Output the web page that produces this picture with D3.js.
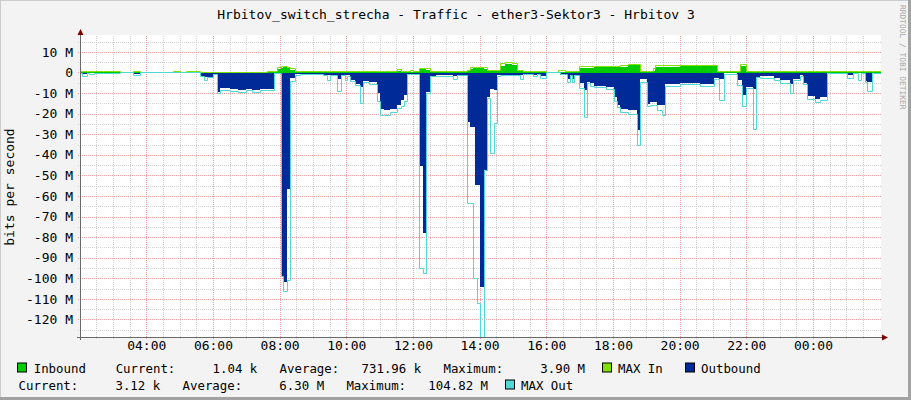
<!DOCTYPE html>
<html><head><meta charset="utf-8">
<script src="https://cdn.jsdelivr.net/npm/d3@7/dist/d3.min.js"></script>
<style>
html,body{margin:0;padding:0;background:#f3f3f3;}
svg{display:block;}
text{font-family:"DejaVu Sans Mono",monospace;fill:#000;}
</style></head><body>
<svg id="chart" width="911" height="400"></svg>
<script>
const title = "Hrbitov_switch_strecha - Traffic - ether3-Sektor3 - Hrbitov 3";
const yAxisTitle = "bits per second";
const watermark = "RRDTOOL / TOBI OETIKER";

// sample start times (each value holds until the next time), values in Mbit/s
const times = ["02:00","02:05","02:13","02:17","02:25","02:42","03:13","03:36","03:49","04:48",
"05:01","05:11","05:37","05:43","05:49","06:00","06:07","06:12","06:31","06:45",
"06:59","07:10","07:25","07:37","07:49","07:55","08:02","08:06","08:13","08:18",
"08:28","08:37","09:18","09:25","09:31","09:43","09:50","09:58","10:01","10:07",
"10:16","10:25","10:30","10:41","10:55","11:01","11:08","11:19","11:31","11:38",
"11:44","11:49","11:55","12:00","12:11","12:18","12:24","12:31","12:41","13:12",
"13:19","13:37","13:43","13:49","13:52","13:56","14:01","14:07","14:13","14:19",
"14:26","14:31","14:37","14:46","14:58","15:07","15:13","15:18","15:36","15:43",
"15:49","16:00","16:21","16:25","16:34","16:37","16:43","16:46","16:50","16:59",
"17:07","17:13","17:19","17:25","17:48","18:01","18:07","18:13","18:27","18:43",
"18:49","19:01","19:07","19:12","19:16","19:19","19:28","19:34","20:01","20:37",
"21:01","21:07","21:10","21:19","21:43","21:49","21:52","21:59","22:13","22:17",
"22:25","22:49","23:01","23:19","23:24","23:37","23:42","23:49","00:04","00:13",
"00:25","01:01","01:13","01:21","01:26","01:34","01:37","01:46"];

const inbound = [0.3,0.3,0.3,0.3,0.3,0.1,0.1,0.3,0.1,0.3,
0.1,0.2,0.1,0.1,0.1,0.1,0.1,0.1,0.1,0.1,
0.1,0.1,0.1,0.4,0.4,1.5,2.3,2.5,2.2,1.2,
0.3,0.2,0.2,0.2,0.2,0.2,0.2,0.2,0.2,0.2,
0.2,0.2,0.2,0.2,0.2,0.2,0.2,0.2,0.5,0.2,
0.2,0.2,0.3,0.2,1.5,1.9,1.1,0.3,0.3,0.3,
0.3,0.5,1.5,2.0,2.2,2.2,2.0,1.5,0.8,0.5,
0.5,0.5,3.2,3.9,3.5,0.6,0.6,0.3,0.3,0.3,
0.3,0.1,0.2,0.2,0.2,0.2,0.2,0.2,0.2,2.2,
2.2,2.2,2.2,2.5,2.5,2.5,2.5,2.7,3.7,3.8,
0.4,0.4,0.4,0.6,2.8,2.8,2.8,2.8,3.2,3.2,
3.2,0.3,0.3,0.3,0.3,3.0,3.0,0.3,0.3,0.3,
0.3,0.3,0.3,0.3,0.3,0.3,0.3,0.3,0.3,0.3,
0.2,0.2,0.2,0.2,0.2,0.2,0.2,0.2];

const maxIn = [0.5,0.5,0.5,0.5,0.5,0.3,0.2,0.5,0.2,0.5,
0.2,0.4,0.2,0.2,0.2,0.2,0.2,0.2,0.2,0.2,
0.2,0.2,0.2,0.7,0.7,2.2,2.7,2.7,2.6,2.0,
0.5,0.4,0.4,0.4,0.4,0.4,0.4,0.4,0.4,0.4,
0.4,0.4,0.4,0.4,0.4,0.4,0.4,0.4,1.6,0.3,
0.3,0.3,0.8,0.3,2.1,2.1,1.8,0.5,0.5,0.5,
0.5,1.0,2.4,2.6,2.6,2.6,2.6,2.4,1.2,0.8,
0.8,0.8,4.2,4.7,4.4,1.0,1.0,0.5,0.5,0.5,
0.5,0.2,1.0,1.0,0.3,0.3,0.3,0.3,0.3,3.0,
3.0,3.0,3.0,3.0,3.0,3.0,3.0,3.2,4.1,4.0,
0.7,0.7,0.7,2.0,3.4,3.4,3.4,3.4,3.5,3.5,
3.5,0.5,0.5,0.5,0.5,3.8,3.8,0.5,0.5,0.5,
0.5,0.5,0.5,0.5,0.5,0.5,0.5,0.5,0.5,0.5,
0.3,0.3,0.3,0.3,0.3,0.3,0.3,0.3];

const outbound = [-0.3,-0.8,-0.2,-0.3,-0.2,-0.1,-0.1,-0.5,-0.1,-0.1,
-0.1,-0.1,-1.5,-2.3,-2.3,-0.8,-9.5,-7.5,-8.0,-8.4,
-8.0,-8.3,-7.8,-8.2,-0.2,-0.2,-99,-102,-56.5,-2.5,
-0.9,-0.5,-1.4,-1.4,-1.0,-3.2,-1.2,-1.3,-1.3,-3.5,
-5.5,-7.0,-4.0,-4.5,-10.0,-17.5,-18.3,-17.5,-16.0,-13.5,
-11.0,-0.5,-0.5,-0.5,-45.5,-78,-9.4,-1.5,-1.3,-1.5,
-1.0,-24,-26.4,-26.4,-54.8,-54.8,-104,-47.5,-11.8,-8.0,
-8.6,-1.0,-1.0,-1.0,-1.0,-1.0,-1.2,-0.8,-1.0,-0.6,
-1.5,-0.1,-0.1,-1.0,-1.0,-3.0,-1.0,-3.0,-1.0,-5.3,
-8.6,-4.5,-5.0,-6.8,-7.2,-12,-16,-17.8,-18,-28,
-3.3,-15.5,-14.5,-14.5,-14.5,-16,-16,-5.8,-5.0,-5.4,
-2.5,-2.5,-3.0,-0.3,-3.5,-3.5,-11.0,-7.0,-7.8,-2.0,
-1.5,-2.5,-3.5,-5.6,-3.0,-1.0,-5.0,-11.5,-13.0,-12.0,
-0.2,-1.0,-0.3,-0.3,-0.3,-4.0,-4.5,-0.2];

const maxOut = [-0.5,-2.0,-0.4,-1.2,-0.4,-0.3,-0.2,-1.6,-0.2,-0.2,
-0.2,-0.2,-2.0,-3.7,-2.6,-1.0,-10.0,-8.9,-9.3,-9.8,
-8.9,-9.5,-8.8,-8.7,-0.3,-0.3,-99,-106.6,-101,-4.2,
-1.6,-1.1,-1.7,-3.7,-1.3,-9.2,-1.6,-4.0,-1.8,-4.5,
-6.5,-15.0,-5.0,-6.0,-14.0,-20.7,-21.0,-19.4,-17.5,-16.5,
-14.0,-1.0,-1.1,-1.1,-95,-97.6,-10,-2.0,-1.8,-3.3,
-1.5,-63.7,-63.7,-100,-100,-112,-130,-47.5,-12.5,-39.4,
-24.8,-2.0,-1.5,-1.5,-1.5,-1.5,-3.2,-1.2,-2.0,-1.0,
-3.0,-0.2,-0.2,-1.2,-1.2,-4.8,-1.5,-4.8,-1.5,-7.8,
-22,-5.3,-7.0,-7.5,-8.5,-14,-17,-19.2,-20.5,-35.6,
-5.0,-16.5,-16,-16,-16,-18.5,-21,-7.0,-6.0,-6.8,
-3.5,-3.5,-13.5,-1.0,-6.5,-6.5,-16.7,-8.0,-27.6,-2.5,
-3.0,-4.0,-5.5,-10,-4.0,-2.0,-6.0,-13,-14.5,-13.5,
-0.3,-3.0,-0.5,-3.7,-0.5,-5.0,-9.0,-0.3];

const yTicks = [10,0,-10,-20,-30,-40,-50,-60,-70,-80,-90,-100,-110,-120];
const yTickLabels = ["10 M","0","-10 M","-20 M","-30 M","-40 M","-50 M","-60 M","-70 M","-80 M","-90 M","-100 M","-110 M","-120 M"];
const xTickLabels = ["04:00","06:00","08:00","10:00","12:00","14:00","16:00","18:00","20:00","22:00","00:00"];

const seriesNames = ["Inbound","MAX In","Outbound","MAX Out"];
const seriesColors = ["#00CC00","#80E000","#002A97","#50D8D4"];
const statLabels = ["Current:","Average:","Maximum:"];
const inboundStats = ["1.04 k","731.96 k","3.90 M"];
const outboundStats = ["3.12 k","6.30 M","104.82 M"];

// ---------- drawing ----------
const svg = d3.select("#chart");
const P = {left:81,right:881,top:35,bottom:337};

// background + 3D frame
svg.append("rect").attr("width",911).attr("height",400).attr("fill","#f3f3f3");
svg.append("rect").attr("x",0).attr("y",0).attr("width",911).attr("height",1).attr("fill","#cbcbcb");
svg.append("rect").attr("x",0).attr("y",0).attr("width",1).attr("height",400).attr("fill","#cbcbcb");
svg.append("rect").attr("x",908).attr("y",0).attr("width",3).attr("height",400).attr("fill","#a2a2a2");
svg.append("rect").attr("x",0).attr("y",397).attr("width",911).attr("height",3).attr("fill","#a2a2a2");
svg.append("rect").attr("x",P.left).attr("y",P.top).attr("width",P.right-P.left).attr("height",P.bottom-P.top).attr("fill","#fff");

// time parsing with day rollover
let day = 0, prev = -1;
const dates = times.map(s => {
  const [h,m] = s.split(":").map(Number);
  const mins = h*60+m;
  if (mins < prev) day++;
  prev = mins;
  return new Date(2024,0,1+day,h,m);
});
const start = new Date(2024,0,1,2,2,30), end = new Date(2024,0,2,2,2,30);
const x = d3.scaleTime().domain([start,end]).range([P.left,P.right]);
const y = d3.scaleLinear().domain([-128.52,18.22]).range([P.bottom,P.top]);

const rows = dates.map((t,i)=>({t, inb:inbound[i], mxi:maxIn[i], out:outbound[i], mxo:maxOut[i]}));
rows.push(Object.assign({}, rows[rows.length-1], {t:end}));

// grid
const minorTimes = d3.timeMinute.every(30).range(start,end).filter(d => !(d.getMinutes()===0 && d.getHours()%2===0) && x(d) < P.right-2);
const majorTimes = d3.timeHour.every(2).range(start,end).filter(d => x(d) < P.right-2);
const minorY = d3.range(-125,18,10);
const gridG = svg.append("g").attr("shape-rendering","crispEdges");
function styleGrid(g,color){
  g.select(".domain").remove();
  g.selectAll("text").remove();
  g.selectAll("line").attr("stroke",color).attr("stroke-dasharray","1,1");
}
gridG.append("g").attr("transform",`translate(0,${P.bottom+2})`)
  .call(d3.axisBottom(x).tickValues(minorTimes).tickSize(-(P.bottom-P.top+2)).tickFormat(""))
  .call(g=>styleGrid(g,"#d2d2d2"));
gridG.append("g").attr("transform",`translate(${P.left-3},0)`)
  .call(d3.axisLeft(y).tickValues(minorY).tickSize(-(P.right-P.left+3)).tickFormat(""))
  .call(g=>styleGrid(g,"#d2d2d2"));
gridG.append("g").attr("transform",`translate(0,${P.bottom+2})`)
  .call(d3.axisBottom(x).tickValues(majorTimes).tickSize(-(P.bottom-P.top+2)).tickFormat(""))
  .call(g=>styleGrid(g,"#eea0a0"));
gridG.append("g").attr("transform",`translate(${P.left-3},0)`)
  .call(d3.axisLeft(y).tickValues(yTicks).tickSize(-(P.right-P.left+3)).tickFormat(""))
  .call(g=>styleGrid(g,"#eea0a0"));

// data
svg.append("clipPath").attr("id","clip").append("rect")
  .attr("x",P.left).attr("y",P.top).attr("width",P.right-P.left).attr("height",P.bottom-P.top);
const dg = svg.append("g").attr("clip-path","url(#clip)");
const X = d => Math.round(x(d.t));
const Y = v => Math.floor(y(v)) + 0.5;
const y0 = Math.floor(y(0)) + 0.5;

dg.append("path").datum(rows).attr("fill",seriesColors[0]).attr("shape-rendering","crispEdges")
  .attr("d", d3.area().curve(d3.curveStepAfter).x(X).y0(y0).y1(d=>y(d.inb)));
dg.append("path").datum(rows).attr("fill","none").attr("stroke",seriesColors[1]).attr("stroke-width",1)
  .attr("d", d3.line().curve(d3.curveStepAfter).x(d=>X(d)+0.5).y(d=>Y(d.mxi)));
dg.append("path").datum(rows).attr("fill",seriesColors[2]).attr("shape-rendering","crispEdges")
  .attr("d", d3.area().curve(d3.curveStepAfter).x(X).y0(y0).y1(d=>y(d.out)));
dg.append("path").datum(rows).attr("fill","none").attr("stroke",seriesColors[3]).attr("stroke-width",1)
  .attr("d", d3.line().curve(d3.curveStepAfter).x(d=>X(d)+0.5).y(d=>Y(d.mxo)));

// axes lines + arrows
const axisColor = "#6a6a6a", arrowColor = "#7f0000";
svg.append("line").attr("x1",80.5).attr("x2",80.5).attr("y1",33).attr("y2",P.bottom+3).attr("stroke",axisColor);
svg.append("line").attr("x1",77).attr("x2",884).attr("y1",P.bottom+0.5).attr("y2",P.bottom+0.5).attr("stroke",axisColor);
svg.append("path").attr("d","M77.5,35 L83.5,35 L80.5,29 Z").attr("fill",arrowColor);
svg.append("path").attr("d",`M882,${P.bottom-2.5} L882,${P.bottom+3.5} L888,${P.bottom+0.5} Z`).attr("fill",arrowColor);

// tick labels
const labelDates = xTickLabels.map(s => {
  const [h,m] = s.split(":").map(Number);
  return majorTimes.find(d => d.getHours()===h && d.getMinutes()===m);
});
svg.append("g").attr("transform",`translate(0,${P.bottom})`)
  .call(d3.axisBottom(x).tickValues(labelDates).tickSize(0).tickPadding(4).tickFormat((d,i)=>xTickLabels[i]))
  .call(g=>{g.select(".domain").remove(); g.selectAll("text").attr("font-size","13px").attr("font-family","DejaVu Sans Mono").attr("fill","#000");});
svg.append("g").attr("transform","translate(73,0)")
  .call(d3.axisLeft(y).tickValues(yTicks).tickSize(0).tickPadding(0).tickFormat((d,i)=>yTickLabels[i]))
  .call(g=>{g.select(".domain").remove(); g.selectAll("text").attr("font-size","13px").attr("font-family","DejaVu Sans Mono").attr("fill","#000");});

// titles
svg.append("text").attr("x",456).attr("y",19).attr("text-anchor","middle").attr("font-size","13px").text(title);
svg.append("text").attr("transform",`translate(14,${(P.top+P.bottom)/2+1}) rotate(-90)`).attr("text-anchor","middle").attr("font-size","13px").text(yAxisTitle);
svg.append("text").attr("transform","translate(899.5,5) rotate(90)").attr("font-size","7.9px").style("fill","#a8a8a8").text(watermark);

// legend
const cw = 7.45, fs = "12.4px";
const lg = svg.append("g");
function box(xp, yp, color){
  lg.append("rect").attr("x",xp+0.5).attr("y",yp+0.5).attr("width",9).attr("height",9).attr("fill",color).attr("stroke","#000");
}
function txt(xp, yp, s){ lg.append("text").attr("x",xp).attr("y",yp).attr("font-size",fs).text(s); }
const r1 = 372.5, r2 = 389.5;
box(17, r1-10, seriesColors[0]);
const o1 = 33.7;
txt(o1, r1, seriesNames[0]);
txt(o1+11*cw, r1, statLabels[0]);
txt(o1+24*cw, r1, inboundStats[0]);
txt(o1+33*cw, r1, statLabels[1]);
txt(o1+44*cw, r1, inboundStats[1]);
txt(o1+55*cw, r1, statLabels[2]);
txt(o1+68*cw, r1, inboundStats[2]);
box(602, r1-10, seriesColors[1]);
txt(618, r1, seriesNames[1]);
box(685, r1-10, seriesColors[2]);
txt(701, r1, seriesNames[2]);
const o2 = 18.6;
txt(o2, r2, statLabels[0]);
txt(o2+13*cw, r2, outboundStats[0]);
txt(o2+22*cw, r2, statLabels[1]);
txt(o2+35*cw, r2, outboundStats[1]);
txt(o2+44*cw, r2, statLabels[2]);
txt(o2+55*cw, r2, outboundStats[2]);
box(505, r2-10, seriesColors[3]);
txt(521, r2, seriesNames[3]);
</script>
</body></html>
